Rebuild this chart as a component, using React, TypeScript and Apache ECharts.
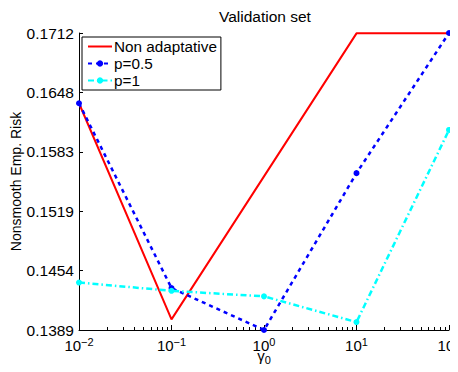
import React, { useEffect, useRef } from "react";
import * as echarts from "echarts";

// Regularisation parameter values (log-spaced)
const gammas = [0.01, 0.1, 1, 10, 100];

// Nonsmooth empirical risk on the validation set
const nonAdaptative = [0.1636, 0.1401, 0.15565, 0.1712, 0.1712];
const pHalf = [0.1636, 0.1435, 0.13894, 0.156, 0.17124];
const pOne = [0.1441, 0.1432, 0.1426, 0.1398, 0.1607];

// Axis ticks
const yTicks = [0.13894, 0.1454, 0.15186, 0.15832, 0.16478, 0.17124];
const xMinorTicks: number[] = [];
for (let e = -2; e < 2; e++) {
  for (let m = 2; m <= 9; m++) xMinorTicks.push(m * Math.pow(10, e));
}

const FONT = "Liberation Sans, Arial, Helvetica, sans-serif";

const pairs = (vals: number[]) => gammas.map((g, i) => [g, vals[i]]);

export default function App() {
  const ref = useRef<HTMLDivElement>(null);

  useEffect(() => {
    if (!ref.current) return;
    const chart = echarts.init(ref.current, undefined, { renderer: "svg" });
    chart.setOption({
      animation: false,
      backgroundColor: "#ffffff",
      textStyle: { fontFamily: FONT, color: "#000" },
      title: {
        text: "Validation set",
        left: 219,
        top: 8,
        padding: 0,
        textStyle: { fontFamily: FONT, fontSize: 15.5, fontWeight: "normal", color: "#000" },
      },
      grid: {
        left: 79,
        right: 9,
        top: 33,
        bottom: 42,
        containLabel: false,
        outerBoundsMode: "none",
      },
      legend: {
        orient: "vertical",
        left: 82,
        top: 37,
        padding: [2, 4, 2, 5],
        itemGap: 2,
        itemWidth: 24,
        itemHeight: 8,
        backgroundColor: "#ffffff",
        borderColor: "#000",
        borderWidth: 1,
        borderRadius: 0,
        textStyle: { fontFamily: FONT, fontSize: 15.3, color: "#000", padding: [0, 0, 0, -3] },
        data: [
          { name: "Non adaptative", itemStyle: { opacity: 0 } },
          { name: "p=0.5" },
          { name: "p=1" },
        ],
      },
      xAxis: [
        {
          type: "log",
          logBase: 10,
          min: 0.01,
          max: 100,
          position: "bottom",
          axisLine: { show: true, lineStyle: { color: "#000", width: 1 } },
          axisTick: { show: true, inside: true, length: 5, lineStyle: { color: "#000" } },
          splitLine: { show: false },
          axisLabel: {
            margin: 6,
            formatter: (v: number) => {
              const e = Math.round(Math.log10(v));
              return `{b|10}{s|${e < 0 ? "\u2212" + -e : e}}`;
            },
            rich: {
              b: { fontFamily: FONT, fontSize: 15, color: "#000", verticalAlign: "bottom", lineHeight: 17 },
              s: { fontFamily: FONT, fontSize: 11, color: "#000", verticalAlign: "top", lineHeight: 17 },
            },
          },
          name: "{g|\u03b3}{z|0}",
          nameLocation: "middle",
          nameGap: 18,
          nameMoveOverlap: false,
          nameTextStyle: {
            rich: {
              g: { fontFamily: FONT, fontSize: 15, color: "#000", verticalAlign: "top", lineHeight: 17 },
              z: { fontFamily: FONT, fontSize: 11, color: "#000", verticalAlign: "bottom", lineHeight: 17 },
            },
          },
        },
        {
          type: "log",
          logBase: 10,
          min: 0.01,
          max: 100,
          position: "bottom",
          axisLine: { show: false },
          axisLabel: { show: false },
          splitLine: { show: false },
          axisTick: {
            show: true,
            inside: true,
            length: 3,
            customValues: xMinorTicks,
            lineStyle: { color: "#000" },
          },
        },
      ],
      yAxis: {
        type: "value",
        min: 0.13894,
        max: 0.17124,
        axisLine: { show: true, lineStyle: { color: "#000", width: 1 } },
        axisTick: { show: true, inside: true, length: 4, customValues: yTicks, lineStyle: { color: "#000" } },
        splitLine: { show: false },
        axisLabel: {
          customValues: yTicks,
          formatter: (v: number) => v.toFixed(4),
          fontFamily: FONT,
          fontSize: 15.5,
          color: "#000",
          margin: 5,
        },
        name: "Nonsmooth Emp. Risk",
        nameLocation: "middle",
        nameGap: 56,
        nameMoveOverlap: false,
        nameTextStyle: { fontFamily: FONT, fontSize: 14, color: "#000" },
      },
      series: [
        {
          name: "Non adaptative",
          type: "line",
          data: pairs(nonAdaptative),
          color: "#ff0000",
          symbol: "none",
          lineStyle: { color: "#ff0000", width: 2 },
          z: 2,
        },
        {
          name: "p=0.5",
          type: "line",
          data: pairs(pHalf),
          color: "#0000ff",
          symbol: "circle",
          symbolSize: 6,
          itemStyle: { color: "#0000ff" },
          lineStyle: { color: "#0000ff", width: 2.5, type: [4, 4] },
          z: 3,
        },
        {
          name: "p=1",
          type: "line",
          data: pairs(pOne),
          color: "#00ffff",
          symbol: "circle",
          symbolSize: 6,
          itemStyle: { color: "#00ffff" },
          lineStyle: { color: "#00ffff", width: 2.5, type: [6, 3, 1.5, 3] },
          z: 3,
        },
      ],
    });
    return () => chart.dispose();
  }, []);

  return <div ref={ref} style={{ width: 458, height: 372, margin: -8 }} />;
}
